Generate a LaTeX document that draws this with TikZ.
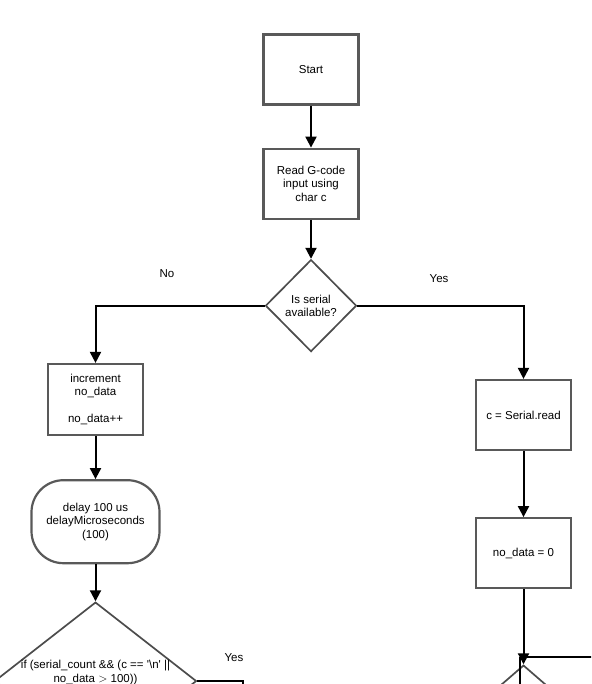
\documentclass[tikz,border=0pt]{standalone}
\usepackage{fontspec}
\setmainfont{Liberation Sans}
\usetikzlibrary{positioning, arrows.meta, shapes.geometric}

\begin{document}
\begin{tikzpicture}[x=1pt, y=-1pt, node distance=40pt,
    every node/.style={font=\fontsize{11.5}{13.5}\selectfont, align=center},
    box/.style={rectangle, draw=black!65, line width=2.2pt, minimum width=95pt, minimum height=70pt, inner sep=2pt},
    decision/.style={diamond, draw=black!70, line width=1.7pt, inner sep=0pt},
    flow/.style={-{Triangle[width=11pt,length=11pt]}, line width=2pt}]
        \path[use as bounding box, clip] (0,0) rectangle (591,684);
        % Main column
        \node[box] (start) at (311,69.5) {Start};
        \node[box, below=42pt of start] (read) {Read G-code\\input using\\char c};
        \node[decision, minimum width=91pt, minimum height=92pt, below=39pt of read] (serial) {Is serial\\available?};
        % No branch
        \node[box, minimum width=95pt, minimum height=71pt] (incr) at (95.5,399.5) {increment\\no\_data\\[13.5pt]no\_data++};
        \node[box, rounded corners=32pt, minimum width=128pt, minimum height=83pt, below=43pt of incr] (delay) {delay 100 us\\delayMicroseconds\\(100)};
        \node[decision, aspect=1.28, minimum width=200pt, minimum height=156pt, below=37pt of delay] (check) {if (serial\_count \&\& (c == \textquotesingle\textbackslash n\textquotesingle{} ||\\no\_data $>$ 100))\\[6pt]};
        % Yes branch
        \node[box] (sread) at (523.5,415) {c = Serial.read};
        \node[box, below=66pt of sread] (nodata) {no\_data = 0};
        \node[decision, aspect=1.15, minimum width=180pt, minimum height=156pt, below=75pt of nodata] (next) {};
        % Labels
        \node (nolbl) at (167,274) {No};
        \node (yeslbl) at (439,279) {Yes};
        \node (yescheck) at (234,658) {Yes};
        % Loose ends
        \coordinate (yesdown) at (243,700);
        \coordinate (loopin) at (600,657);
        \coordinate (loopend) at (525,657);
        \coordinate (sidetop) at (520,657);
        \coordinate (sidebot) at (520,700);
        % Arrows
        \draw[flow] (start) -- (read);
        \draw[flow] (read) -- (serial);
        \draw[flow] (serial.west) -| (incr.north);
        \draw[flow] (serial.east) -| (sread.north);
        \draw[flow] (incr) -- (delay);
        \draw[flow] (delay) -- (check);
        \draw[flow] (sread) -- (nodata);
        \draw[flow] (nodata) -- (next);
        \draw[line width=2pt] (check.east) -| (yesdown);
        \draw[line width=2pt] (loopin) -- (loopend);
        \draw[line width=2pt] (sidetop) -- (sidebot);
    \end{tikzpicture}
\end{document}
